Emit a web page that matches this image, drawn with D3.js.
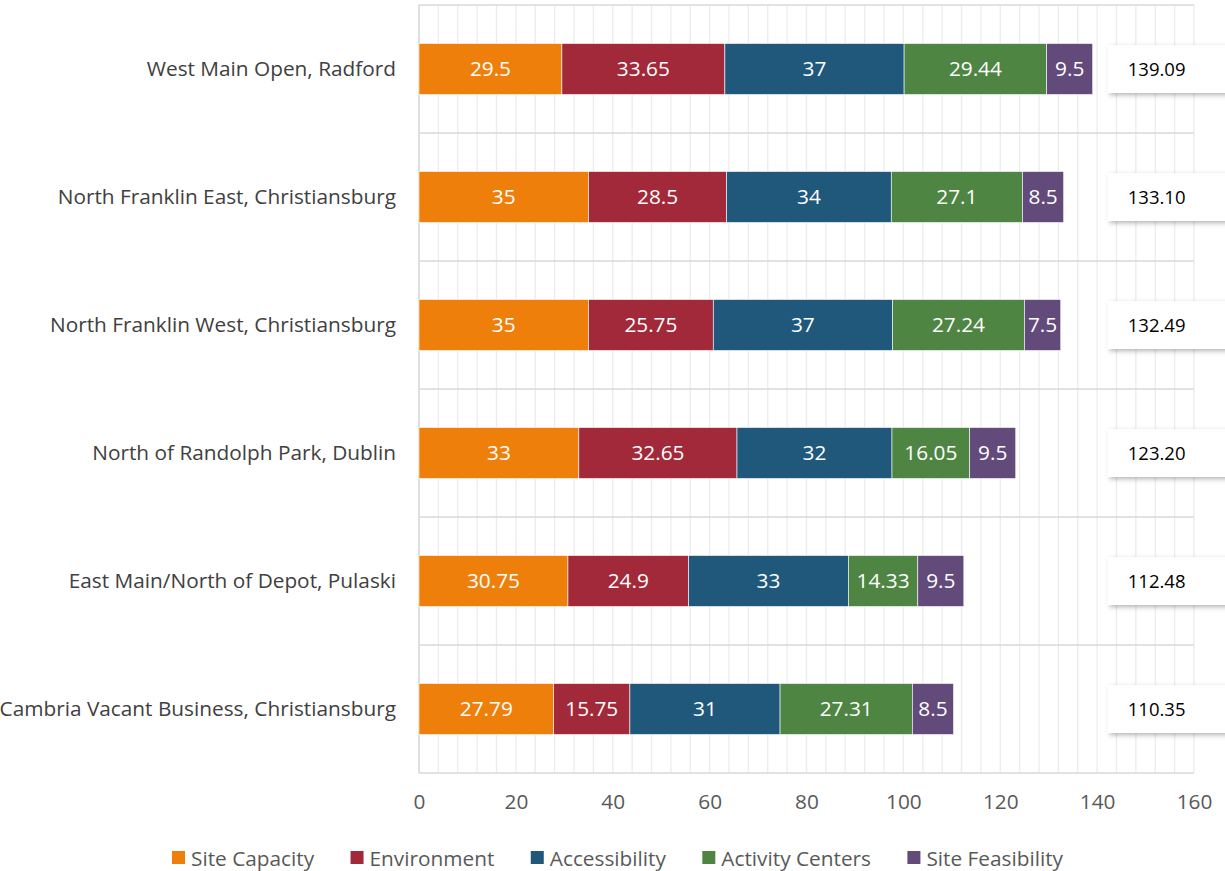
<!DOCTYPE html>
<html>
<head>
<meta charset="utf-8">
<script src="https://cdn.jsdelivr.net/npm/d3@7"></script>
<style>
  body { margin: 0; background: #fff; }
  svg { display: block; font-family: "Open Sans", sans-serif; }
</style>
</head>
<body>
<div id="chart"></div>
<script>
// ---------- data ----------
const sites = [
    "West Main Open, Radford",
    "North Franklin East, Christiansburg",
    "North Franklin West, Christiansburg",
    "North of Randolph Park, Dublin",
    "East Main/North of Depot, Pulaski",
    "Cambria Vacant Business, Christiansburg"
];
const criteria = ["Site Capacity", "Environment", "Accessibility", "Activity Centers", "Site Feasibility"];
const siteCapacity    = [29.5, 35, 35, 33, 30.75, 27.79];
const environment     = [33.65, 28.5, 25.75, 32.65, 24.9, 15.75];
const accessibility   = [37, 34, 37, 32, 33, 31];
const activityCenters = [29.44, 27.1, 27.24, 16.05, 14.33, 27.31];
const siteFeasibility = [9.5, 8.5, 7.5, 9.5, 9.5, 8.5];
const totals = ["139.09", "133.10", "132.49", "123.20", "112.48", "110.35"];
const xTicks = [0, 20, 40, 60, 80, 100, 120, 140, 160];

const colors = ["#ef7f0b", "#a1293a", "#1f587b", "#4e8543", "#624a7b"];

// ---------- layout ----------
const WIDTH = 1225, HEIGHT = 871;
const margin = { top: 5, left: 419, right: 31, bottom: 98 };
const FONT = 20.8;

const svg = d3.select("#chart").append("svg")
    .attr("width", WIDTH)
    .attr("height", HEIGHT);

const defs = svg.append("defs");
const shadow = defs.append("filter").attr("id", "shadow")
    .attr("x", "-20%").attr("y", "-30%").attr("width", "150%").attr("height", "180%");
shadow.append("feDropShadow")
    .attr("dx", 2).attr("dy", 2).attr("stdDeviation", 2.5)
    .attr("flood-color", "#000").attr("flood-opacity", 0.3);

const x = d3.scaleLinear()
    .domain([0, 160])
    .range([margin.left, WIDTH - margin.right]);

const y = d3.scaleBand()
    .domain(sites)
    .range([margin.top, HEIGHT - margin.bottom]);

// minor vertical gridlines
svg.append("g")
    .selectAll("line")
    .data(d3.range(0, 161, 4))
    .join("line")
    .attr("x1", d => x(d)).attr("x2", d => x(d))
    .attr("y1", margin.top).attr("y2", HEIGHT - margin.bottom)
    .attr("stroke", "#ececec")
    .attr("stroke-width", 1.3);

// horizontal category lines
svg.append("g")
    .selectAll("line")
    .data(d3.range(0, sites.length + 1))
    .join("line")
    .attr("x1", margin.left).attr("x2", x(160))
    .attr("y1", d => margin.top + d * y.step())
    .attr("y2", d => margin.top + d * y.step())
    .attr("stroke", "#d9d9d9")
    .attr("stroke-width", 1.5);

svg.append("line")
    .attr("x1", margin.left).attr("x2", margin.left)
    .attr("y1", margin.top).attr("y2", HEIGHT - margin.bottom)
    .attr("stroke", "#d9d9d9")
    .attr("stroke-width", 1.5);

// stacked data
const seriesValues = [siteCapacity, environment, accessibility, activityCenters, siteFeasibility];
const table = sites.map((s, i) => {
    const row = { site: s };
    criteria.forEach((c, j) => row[c] = seriesValues[j][i]);
    return row;
});
const stacked = d3.stack().keys(criteria)(table);

const barH = 51;
const barY = d => y(d.data.site) + (y.bandwidth() - barH) / 2;

const layers = svg.append("g")
    .selectAll("g")
    .data(stacked)
    .join("g")
    .attr("fill", (d, i) => colors[i]);

layers.selectAll("rect")
    .data(d => d)
    .join("rect")
    .attr("x", d => x(d[0]))
    .attr("y", barY)
    .attr("width", d => x(d[1]) - x(d[0]))
    .attr("height", barH)
    .attr("stroke", "#fff")
    .attr("stroke-width", 0.6);

layers.selectAll("text")
    .data(d => d.map(v => ({ v, key: d.key })))
    .join("text")
    .attr("x", d => (x(d.v[0]) + x(d.v[1])) / 2)
    .attr("y", d => barY(d.v) + barH / 2)
    .attr("dy", "0.36em")
    .attr("text-anchor", "middle")
    .attr("fill", "#fff")
    .attr("font-size", FONT)
    .text(d => d.v.data[d.key]);

// category labels
svg.append("g")
    .selectAll("text")
    .data(sites)
    .join("text")
    .attr("x", margin.left - 23)
    .attr("y", d => y(d) + y.bandwidth() / 2)
    .attr("dy", "0.36em")
    .attr("text-anchor", "end")
    .attr("fill", "#404040")
    .attr("font-size", FONT)
    .text(d => d);

// total boxes
const totalGroup = svg.append("g")
    .selectAll("g")
    .data(sites)
    .join("g")
    .attr("transform", d => `translate(${x(142.2)},${y(d) + y.bandwidth() / 2 - 24})`);

totalGroup.append("rect")
    .attr("width", 125)
    .attr("height", 48)
    .attr("fill", "#fff")
    .attr("filter", "url(#shadow)");

totalGroup.append("text")
    .attr("x", 20)
    .attr("y", 24)
    .attr("dy", "0.36em")
    .attr("font-size", 18.5)
    .attr("fill", "#000")
    .text((d, i) => totals[i]);

// x axis
const xAxis = svg.append("g")
    .attr("transform", `translate(0,${HEIGHT - margin.bottom})`)
    .call(d3.axisBottom(x).tickValues(xTicks).tickSize(0).tickPadding(21));
xAxis.select(".domain").remove();
xAxis.selectAll("text")
    .attr("font-family", "Open Sans, sans-serif")
    .attr("font-size", FONT)
    .attr("fill", "#595959");

// legend: spread items across the same span as the reference (172 -> 1063)
const legend = svg.append("g")
    .attr("transform", `translate(172,858)`);
const items = legend.selectAll("g")
    .data(criteria)
    .join("g");
items.append("rect")
    .attr("y", -7)
    .attr("width", 13)
    .attr("height", 13)
    .attr("fill", (d, i) => colors[i]);
items.append("text")
    .attr("x", 19)
    .attr("dy", "0.36em")
    .attr("font-size", FONT)
    .attr("fill", "#595959")
    .text(d => d);
const widths = items.nodes().map(n => 19 + n.querySelector("text").getComputedTextLength());
const gap = (891 - d3.sum(widths)) / (criteria.length - 1);
let lx = 0;
items.attr("transform", (d, i) => {
    const t = `translate(${lx},0)`;
    lx += widths[i] + gap;
    return t;
});
</script>
</body>
</html>
